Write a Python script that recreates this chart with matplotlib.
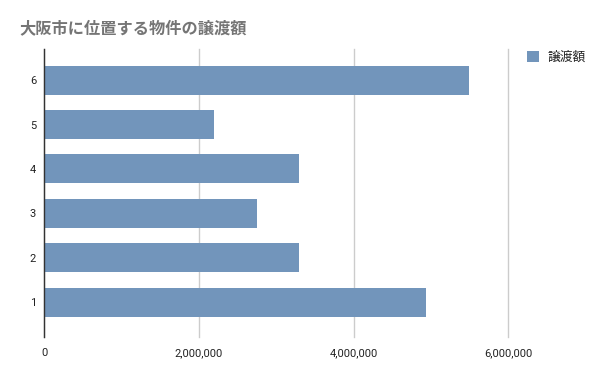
import matplotlib.pyplot as plt
from matplotlib.ticker import FuncFormatter

plt.rcParams['font.family'] = ['Roboto', 'Noto Sans CJK JP', 'DejaVu Sans']

categories = ['1', '2', '3', '4', '5', '6']
amounts = [4940000, 3290000, 2750000, 3290000, 2200000, 5490000]
series_name = '譲渡額'
title = '大阪市に位置する物件の譲渡額'

fig = plt.figure(figsize=(6, 3.71), dpi=100)
ax = fig.add_axes([0.074, 0.092, 0.773, 0.776])

pos = list(range(len(categories)))
ax.barh(pos, amounts, height=0.65, color='#7295bb', label=series_name, zorder=2)

ax.set_xlim(0, 6000000)
ax.set_ylim(-0.78, 5.7)
ax.set_xticks([0, 2000000, 4000000, 6000000])
ax.xaxis.set_major_formatter(FuncFormatter(lambda v, p: f'{int(v):,}'))
ax.set_yticks(pos)
ax.set_yticklabels(categories)
ax.tick_params(length=0, labelsize=8, colors='#222222')
ax.tick_params(axis='x', pad=8)
ax.tick_params(axis='y', pad=6)

ax.grid(axis='x', color='#cccccc', linewidth=1, zorder=0)
for gl in ax.get_xgridlines():
    gl.set_clip_on(False)
for s in ['top', 'right', 'bottom']:
    ax.spines[s].set_visible(False)
ax.spines['left'].set_color('#333333')
ax.spines['left'].set_linewidth(1)
ax.spines['left'].set_zorder(3)

fig.text(0.033, 0.925, title, fontsize=11.7, fontweight='bold', color='#757575',
         va='center', ha='left')

ax.legend(loc='upper left', bbox_to_anchor=(1.03, 1.01), frameon=False,
          fontsize=9.2, handlelength=0.9, handleheight=0.9, borderaxespad=0,
          handletextpad=0.7, labelcolor='#222222')

fig.savefig('out.png', dpi=100)
